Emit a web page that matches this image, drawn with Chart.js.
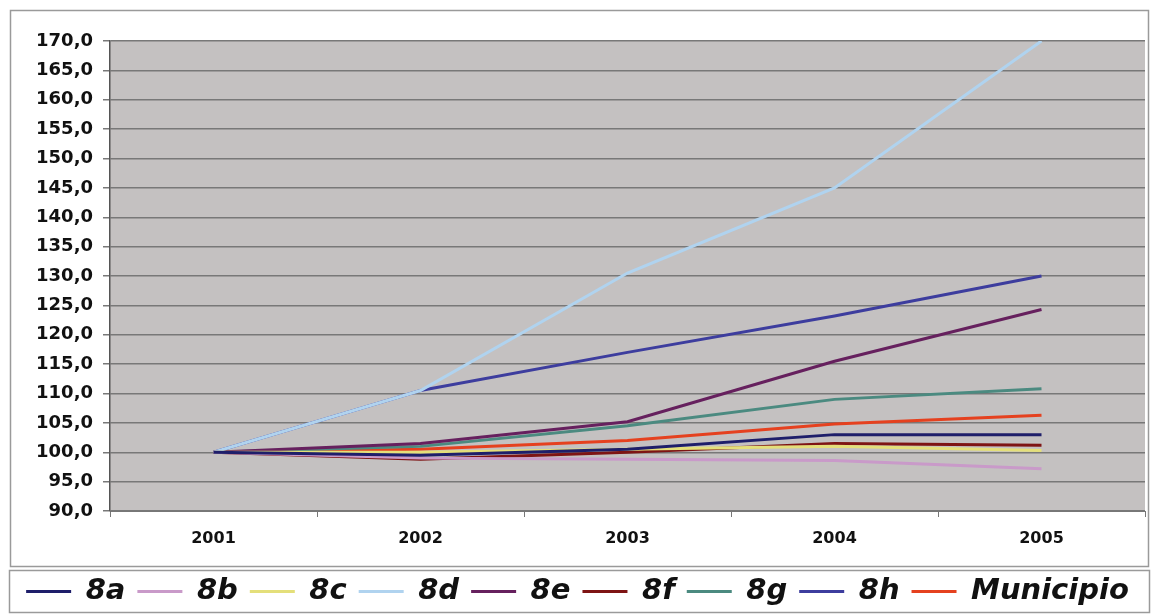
<!DOCTYPE html>
<html lang="es">
<head>
    <meta charset="UTF-8">
    <title>Indice 2001-2005</title>
    <style>
        body { margin: 0; background: #ffffff; }
        #wrap { width: 1159px; height: 616px; }
    </style>
</head>
<body>
    <div id="wrap">
        <canvas id="line-chart" width="1159" height="616"></canvas>
    </div>

    <script src="https://cdn.jsdelivr.net/npm/chart.js"></script>
    <script>
        // categories (years)
        const years = ["2001", "2002", "2003", "2004", "2005"];

        // series values (2001 = 100)
        const s8a = [100.0, 99.5, 100.5, 103.0, 103.0];
        const s8b = [100.0, 99.0, 98.8, 98.6, 97.2];
        const s8c = [100.0, 100.0, 100.5, 101.0, 100.3];
        const s8d = [100.0, 110.5, 130.5, 145.0, 170.0];
        const s8e = [100.0, 101.5, 105.2, 115.5, 124.3];
        const s8f = [100.0, 98.8, 100.0, 101.5, 101.2];
        const s8g = [100.0, 101.0, 104.5, 109.0, 110.8];
        const s8h = [100.0, 110.5, 117.0, 123.2, 130.0];
        const municipio = [100.0, 100.5, 102.0, 104.8, 106.3];

        const seriesNames = ["8a", "8b", "8c", "8d", "8e", "8f", "8g", "8h", "Municipio"];
        const seriesValues = [s8a, s8b, s8c, s8d, s8e, s8f, s8g, s8h, municipio];
        const seriesColors = ["#1e1e6a", "#c99ac9", "#e4df7a", "#b0d3ef", "#66205e",
                              "#7e1414", "#4b8a80", "#3d3d9e", "#e5411f"];

        // y axis range
        const yMin = 90;
        const yMax = 170;
        const yStep = 5;

        const datasets = seriesNames.map((name, i) => ({
            label: name,
            data: seriesValues[i],
            borderColor: seriesColors[i],
            backgroundColor: seriesColors[i],
            borderWidth: 3,
            pointRadius: 0,
            tension: 0
        }));

        // grey plot background + frames around chart and legend
        const framePlugin = {
            id: "frame",
            beforeDraw(chart) {
                const ctx = chart.ctx;
                const a = chart.chartArea;
                ctx.save();
                ctx.fillStyle = "#c4c1c1";
                ctx.fillRect(a.left, a.top, a.right - a.left, a.bottom - a.top);
                ctx.restore();
            },
            afterDraw(chart) {
                const ctx = chart.ctx;
                ctx.save();
                ctx.strokeStyle = "#9a9a9a";
                ctx.lineWidth = 1.5;
                ctx.strokeRect(10.5, 10.5, chart.width - 21, 556);
                ctx.strokeRect(9.5, 570.5, chart.width - 19, 42);
                ctx.restore();
            }
        };

        new Chart(document.getElementById("line-chart"), {
            type: "line",
            data: { labels: years, datasets: datasets },
            plugins: [framePlugin],
            options: {
                responsive: false,
                devicePixelRatio: 1,
                animation: false,
                layout: { padding: { top: 41, left: 10, right: 14, bottom: 0 } },
                plugins: {
                    tooltip: { enabled: false },
                    legend: {
                        position: "bottom",
                        labels: {
                            boxWidth: 45,
                            boxHeight: 3,
                            padding: 12,
                            color: "#111111",
                            font: { family: "DejaVu Sans", size: 29, weight: "bold", style: "italic" },
                            // thin line samples: fill only, no outline
                            generateLabels(chart) {
                                const items = Chart.defaults.plugins.legend.labels.generateLabels(chart);
                                items.forEach(it => { it.lineWidth = 0; });
                                return items;
                            }
                        }
                    }
                },
                scales: {
                    x: {
                        offset: true,
                        afterFit(scale) { scale.height = 54; },
                        grid: {
                            offset: true,
                            drawOnChartArea: false,
                            tickLength: 6,
                            color: "#777777"
                        },
                        border: { color: "#777777", width: 1 },
                        ticks: {
                            padding: 12,
                            color: "#111111",
                            font: { family: "DejaVu Sans", size: 16, weight: "bold" }
                        }
                    },
                    y: {
                        min: yMin,
                        max: yMax,
                        afterFit(scale) { scale.width = 100; },
                        grid: {
                            color: "#787878",
                            lineWidth: 1.5,
                            tickLength: 7
                        },
                        border: { color: "#555555", width: 1.5 },
                        ticks: {
                            stepSize: yStep,
                            padding: 10,
                            color: "#111111",
                            font: { family: "DejaVu Sans", size: 18, weight: "bold" },
                            callback: (v) => v.toFixed(1).replace(".", ",")
                        }
                    }
                }
            }
        });
    </script>
</body>
</html>
